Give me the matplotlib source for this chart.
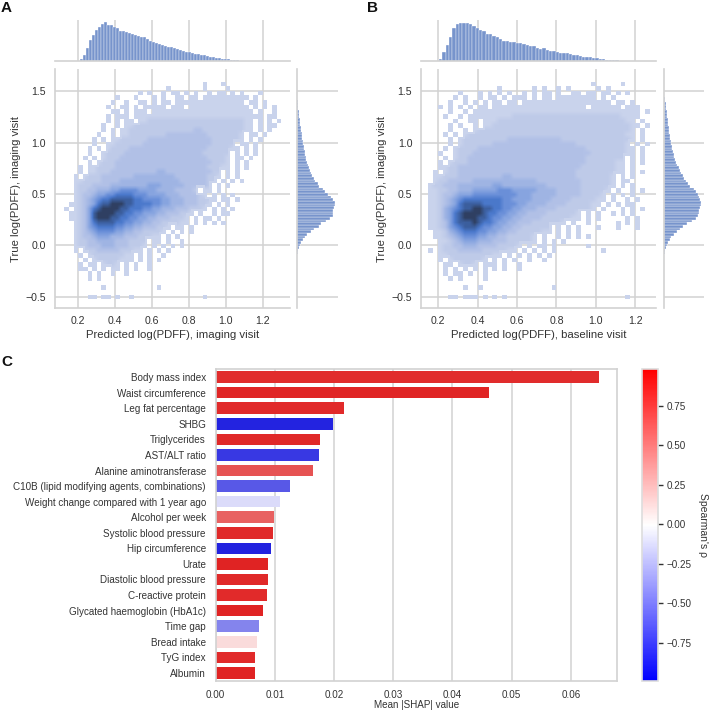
import colorsys

import numpy as np
import matplotlib
matplotlib.use("Agg")
import matplotlib.pyplot as plt
from matplotlib.cm import ScalarMappable
from matplotlib.colors import LinearSegmentedColormap, ListedColormap, Normalize

plt.rcParams["font.family"] = ["Liberation Sans", "DejaVu Sans"]

# --- density levels, top row first ('.' = empty, 1-9 = light to dark) ---
density_a = [
    "..............................1...1",
    "......................1.......1....1",
    "................1.1..1.11.1.1..1.11.1.1...1",
    "...........1...1...1.1..11.11.1111111111.1..",
    "..........1..1..11.1.11.111111111111111.11.1.",
    ".........1..11.1.11111.111.1111111111111.1.1.1",
    "..........11.1.111.1111111111111111111111.1..1.1",
    ".........1.111.1111111111111111111111111111.11.1",
    ".........1.1.11.1122222222222222222222211.1.1.1",
    "........1..1.1122222222222222222222222211.1.11",
    "........1.1.11222222222222223322222222211.1.1.",
    ".......1..1.112222222233333333322222221.11.1",
    "......1.1.11222222333333333333332222221.1.1",
    "......1..1122222233333333333333322222.11.1",
    ".....1.1.12222333333333333333332222211.1.1",
    ".....1..1222233333333333333333222222.1.1.1",
    "....1.1.1222333333333333333333322221.11.1",
    ".....1.12223333333333333333333332221.1.1.",
    "...1.1122223333333333333333333322211.1.1",
    "...1.11222333333333344333333333322.1.1",
    "..1.122233333334444444443333333221.1.1",
    "..1122223333444444444444433333322.1.1.1",
    "..122233334444444455544444333332.1.1",
    "..122334445566665555444433332.11.1",
    "..12334556677776665555444333321.1.1.1",
    "..1234567788888776666554443332221.11.1",
    ".1123457889998877776655444333221.1.1",
    "1.12357899998877766554443332221.1.1.1",
    ".112358999988776655544333221.1..1.11",
    ".11235899988776655443332221.1.11.1",
    "..1235788887766554433222211.1.1.1.1",
    "..123567777665544333221.11.1",
    "..12345666655443322221.1.1.1",
    "..1233455544433322211.1.1",
    "..1223344443332222.11.1..1",
    "..1223334443332221.1.1.1.1",
    "..1.2223333322211.1.1.1",
    "...1.1222222211.1.1..1",
    "....1.122222111.1.1.1",
    "...1.11.1221.1.1..1",
    "...11.1.1.11.1.1..1",
    ".....1.1..1..1",
    ".....1.1",
    "",
    "........1...........1",
    "",
    ".....11.11.1..1...............1",
]

density_b = [
    "..................................1.....1",
    "...............1......1.1..1.1.....1.1",
    ".......1...1.1.1.1..1.1.11.1..11.11.11.1.1",
    "......1.1..1.11.1.111.1.11.11111111.1.1",
    ".....1..1.1.1.11.11.111111111111111111.11.1",
    "...1.1.1.1.11.1111111111111111111.111111.111",
    ".....1..1.1111111111111111111111111111111111.1",
    "....1..1.11111111122222222222222222222221111",
    "......1..11.1112222222222222222222222222211.1",
    ".....1.1..1.11222222222222222222222222222211.1",
    ".....1..1.122222222222222222222222222222221.1",
    "....1.1.12222222222222222222222222222222211.1",
    ".....1.122222222233333333333222222222222221.1",
    ".....1.12222223333333333333333322222222221.1.1",
    "....1.1222233333333333333333333332222222211.1",
    "...1..1222333333333333333333333333222222211.1",
    "....1.12233333333333333333333333322222222.1.1",
    "...1.122233333333333333333333333322222211.1.1",
    "...11223333333333333333333333333222222211.1",
    "..1.1223333333333333333333333332222222211.1.1",
    "..1122233333333344333333333333322222221.1.1",
    "..1223333344444444444443333333332222221.11",
    ".12233344444445544444444433333332222221.1.1",
    ".1122334445555566655555444433333222221.1..1.1",
    ".112334555666666666555444443333322221.1.1.1",
    ".112345677777777665555444433332222211.1..1.1",
    ".11234578888777766655444433332222211.1.1.11",
    ".1124567889988776655444333322222221.1...1.1.1",
    ".1124578999987766554433332222221.1.1..1.1.1",
    ".1124578999887665544333322222211.1.1.....1.1",
    ".1123578889877655443332222221.1..1.....1.1.1",
    ".1123567888766554433222222.1.1.1...1...1...1",
    "..112456777665544332222211.1.1.1",
    "..112345666554433222221.1..1.1.1.1",
    "...11234555444333222221.1.1.1",
    "...12233444333322221.1.11.1......1",
    ".1.1222333332222211.1.1.1.1.........1",
    "...1122222222211.1.1.1.1.1",
    "...1.12222221.1.1.1..1..1",
    "....11.1221.111.1..1",
    "....1.1.1.1.1.1.1..1",
    "....1.11.1..1",
    ".....1.1....1",
    "",
    "........1..1..............1",
    "",
    ".....11.111.1.1.1........................1",
]

# marginal histograms, heights in arbitrary counts
top_a = [5, 18, 38, 62, 78, 93, 102, 109, 115, 108, 107, 100, 98, 90, 88, 85, 84, 80,
         77, 73, 72, 70, 65, 60, 58, 55, 52, 48, 46, 43, 41, 38, 35, 33, 31, 28, 26, 25,
         22, 20, 18, 17, 14, 12, 11, 10, 8, 7, 6, 5, 4, 3, 2, 1]
top_b = [7, 28, 48, 72, 97, 110, 114, 114, 113, 110, 105, 97, 92, 88, 81, 81, 75, 70,
         64, 61, 60, 58, 57, 55, 53, 50, 48, 45, 44, 38, 37, 38, 33, 30, 29, 27, 25, 24,
         24, 21, 19, 17, 16, 13, 12, 11, 9, 8, 6, 5, 4, 3, 2, 2, 1, 1, 1]
right_a = [2, 4, 6, 9, 12, 18, 23, 31, 42, 50, 64, 72, 86, 98, 106, 108, 106, 110, 113,
           113, 108, 100, 92, 82, 78, 66, 62, 55, 50, 44, 41, 38, 36, 32, 31, 28, 26, 24,
           23, 21, 20, 19, 17, 16, 15, 14, 13, 12, 10, 9, 8, 7, 6, 5, 4, 3, 2, 1.5, 1]
right_b = [1, 3, 5, 8, 11, 16, 22, 30, 38, 47, 58, 70, 85, 97, 103, 106, 108, 109, 112,
           112, 110, 108, 104, 98, 90, 80, 74, 68, 62, 56, 52, 48, 44, 40, 37, 34, 31, 29,
           27, 25, 23, 21, 20, 18, 17, 15, 14, 13, 12, 11, 10, 9, 8, 7, 6, 5, 4, 3, 2]

features = ["Body mass index", "Waist circumference", "Leg fat percentage", "SHBG",
            "Triglycerides", "AST/ALT ratio", "Alanine aminotransferase",
            "C10B (lipid modifying agents, combinations)",
            "Weight change compared with 1 year ago", "Alcohol per week",
            "Systolic blood pressure", "Hip circumference", "Urate",
            "Diastolic blood pressure", "C-reactive protein",
            "Glycated haemoglobin (HbA1c)", "Time gap", "Bread intake", "TyG index", "Albumin"]
shap_values = [0.0647, 0.0461, 0.0216, 0.0198, 0.0176, 0.0174, 0.0164, 0.0126, 0.0108, 0.0098,
               0.0097, 0.0094, 0.0088, 0.0088, 0.0087, 0.0080, 0.0073, 0.0069, 0.0067, 0.0066]
spearman = [0.92, 0.95, 0.93, -0.97, 0.94, -0.88, 0.75, -0.74, -0.16, 0.69,
            0.94, -0.98, 0.96, 0.94, 0.93, 0.96, -0.55, 0.15, 0.93, 0.96]

GRID = "#d2d2d2"
TEXT = "#333333"
W = H = 710

density_cmap = LinearSegmentedColormap.from_list(
    "density", ["#c9d3ec", "#bfcbe9", "#b2c1e7", "#a0b5e4", "#88a5e0",
                "#6b90d9", "#4b79cc", "#3c5f9f", "#2f3f62"])


def px_axes(fig, left, top, right, bottom):
    return fig.add_axes([left / W, 1 - bottom / H, (right - left) / W, (bottom - top) / H])


def parse_density(rows):
    grid = np.zeros((len(rows), 47))
    for i, row in enumerate(rows):
        for j, ch in enumerate(row[:47]):
            if ch != ".":
                grid[i, j] = int(ch)
    return np.ma.masked_equal(grid, 0)


def style(ax, spines, grid_axis):
    for name, spine in ax.spines.items():
        spine.set_visible(name in spines)
        spine.set_color(GRID)
        spine.set_linewidth(1.2)
    ax.set_axisbelow(True)
    ax.grid(False)
    if grid_axis:
        ax.grid(True, axis=grid_axis, color=GRID, linewidth=1.1)
    ax.tick_params(length=0, labelsize=7.6, labelcolor=TEXT)


def joint_panel(fig, box, top_box, right_box, xlim, rows, top, top_start, top_w, right, xlabel, ylabel_px):
    ax = px_axes(fig, *box)
    levels = parse_density(rows)
    x_edges = 0.125 + 0.025 * np.arange(48)
    y_edges = -0.5225 + 0.045 * np.arange(48)
    # sparse outer cells stay crisp, the dense middle is smoothed on top of them
    ax.pcolormesh(x_edges, y_edges, levels[::-1], cmap=ListedColormap(["#c9d3ec"]), linewidth=0, zorder=2)
    ax.imshow(levels, extent=(0.125, 1.3, -0.5225, 1.5925), aspect="auto",
              cmap=density_cmap, vmin=1, vmax=9, interpolation="bilinear", zorder=3)
    ax.set_xlim(xlim)
    ax.set_ylim(-0.607, 1.714)
    ax.set_xticks([0.2, 0.4, 0.6, 0.8, 1.0, 1.2])
    ax.set_yticks([-0.5, 0.0, 0.5, 1.0, 1.5])
    style(ax, ["left", "bottom"], "both")
    ax.tick_params(axis="x", pad=5.5)
    ax.tick_params(axis="y", pad=6.5)
    ax.set_xlabel(xlabel, fontsize=8.2, color=TEXT, labelpad=3)
    fig.text(ylabel_px / W, 1 - 188.5 / H, "True log(PDFF), imaging visit", fontsize=8.1, color=TEXT,
             rotation=90, ha="center", va="center")

    ax_top = px_axes(fig, *top_box)
    ax_top.bar(top_start + top_w * np.arange(len(top)), top, width=top_w, align="edge",
               color="#7794cc", edgecolor="#ffffff", linewidth=0.25)
    ax_top.set_xlim(xlim)
    ax_top.set_ylim(0, 122)
    ax_top.set_xticks([0.2, 0.4, 0.6, 0.8, 1.0, 1.2])
    ax_top.set_yticks([])
    style(ax_top, ["bottom"], "x")
    ax_top.tick_params(labelbottom=False)

    ax_right = px_axes(fig, *right_box)
    ax_right.barh(-0.087 + 0.0259 * np.arange(len(right)), right, height=0.0259, align="edge",
                  color="#7794cc", edgecolor="#ffffff", linewidth=0.25)
    ax_right.set_ylim(-0.607, 1.714)
    ax_right.set_xlim(0, 122)
    ax_right.set_yticks([-0.5, 0.0, 0.5, 1.0, 1.5])
    ax_right.set_xticks([])
    style(ax_right, ["left"], "y")
    ax_right.tick_params(labelleft=False)


def bar_colour(value, norm, cmap):
    r, g, b = cmap(norm(value))[:3]
    h, l, s = colorsys.rgb_to_hls(r, g, b)
    return colorsys.hls_to_rgb(h, l, s * 0.75)


fig = plt.figure(figsize=(7.1, 7.1), dpi=100)

joint_panel(fig, (55, 69, 290, 308), (55, 20, 290, 61), (297, 69, 338, 308), (0.0736, 1.348),
            density_a, top_a, 0.2065, 0.0163, right_a, "Predicted log(PDFF), imaging visit", 15.7)
joint_panel(fig, (421.3, 69, 656, 308), (421.3, 20, 656, 61), (664.3, 69, 704, 308), (0.114, 1.305),
            density_b, top_b, 0.2036, 0.0169, right_b, "Predicted log(PDFF), baseline visit", 381.7)

# panel C
norm = Normalize(-0.99, 0.98)
cmap = plt.get_cmap("bwr")
ax_c = px_axes(fig, 215.7, 369.3, 617, 680.7)
ax_c.barh(np.arange(len(features)), shap_values, height=0.74,
          color=[bar_colour(v, norm, cmap) for v in spearman])
ax_c.set_yticks(np.arange(len(features)), features)
ax_c.set_ylim(19.5, -0.5)
ax_c.set_xlim(0, 0.0678)
ax_c.set_xticks([0.0, 0.01, 0.02, 0.03, 0.04, 0.05, 0.06])
ax_c.set_xticklabels(["0.00", "0.01", "0.02", "0.03", "0.04", "0.05", "0.06"])
style(ax_c, ["left", "right", "top", "bottom"], "x")
ax_c.tick_params(axis="both", labelsize=7.1)
ax_c.tick_params(axis="y", pad=7)
ax_c.tick_params(axis="x", pad=6.5)
fig.text((215.7 + 617) / 2 / W, 1 - 704.5 / H, "Mean |SHAP| value", fontsize=7.1, color=TEXT,
         ha="center", va="center")

cax = px_axes(fig, 642.3, 369.3, 657.7, 680.7)
cb = fig.colorbar(ScalarMappable(norm=norm, cmap=cmap), cax=cax)
cb.set_ticks([-0.75, -0.5, -0.25, 0.0, 0.25, 0.5, 0.75])
cb.ax.tick_params(length=3.5, width=1, color=TEXT, labelsize=7.1, labelcolor=TEXT, pad=3)
cb.outline.set_edgecolor("#dddddd")
cb.outline.set_linewidth(1.2)
fig.text(703 / W, 1 - 525 / H, "Spearman's ρ", rotation=270, ha="center", va="center",
         fontsize=7.5, color=TEXT)

for letter, x, y in [("A", 1, 8), ("B", 367, 8), ("C", 1, 362)]:
    fig.text(x / W, 1 - y / H, letter, fontsize=11, fontweight="bold", color="#111111",
             ha="left", va="center")

fig.savefig("out.png", dpi=100)
